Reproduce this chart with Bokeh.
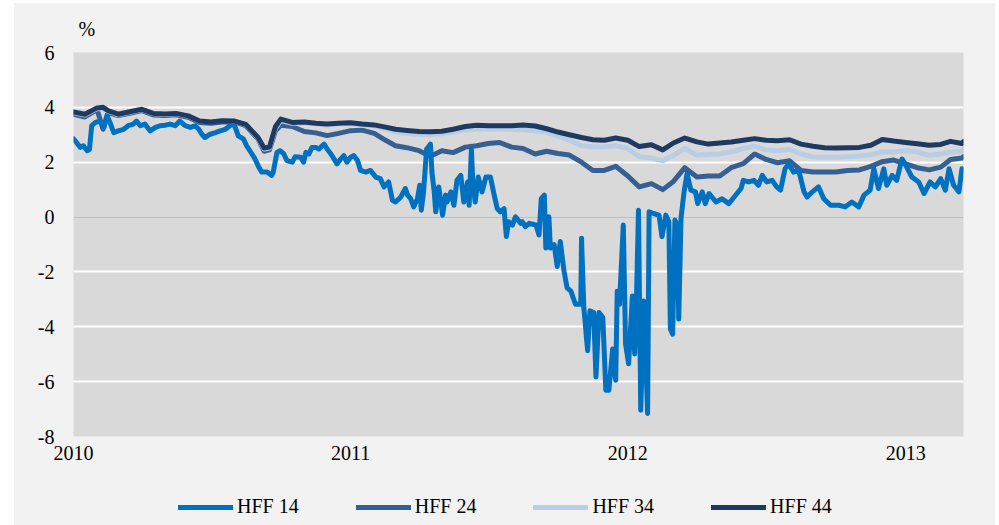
import pandas as pd
from bokeh.plotting import figure
from bokeh.layouts import column, row
from bokeh.models import (Range1d, FixedTicker, DatetimeTickFormatter, Legend,
                          LegendItem, Grid, Spacer)
from bokeh.embed import file_html
from bokeh.resources import INLINE

# ---------------- data ----------------
years = [2010, 2011, 2012, 2013]
y_ticks = [-8, -6, -4, -2, 0, 2, 4, 6]
series_names = ["HFF 14", "HFF 24", "HFF 34", "HFF 44"]
x_start = "2010-01-01"
x_end = "2013-03-18"

hff14_dates = [
    "2010-01-01", "2010-01-05", "2010-01-10", "2010-01-14", "2010-01-19", "2010-01-22", "2010-01-25",
    "2010-01-30", "2010-02-05", "2010-02-10", "2010-02-14", "2010-02-18", "2010-02-23", "2010-03-01",
    "2010-03-08", "2010-03-14", "2010-03-21", "2010-03-25", "2010-03-30", "2010-04-05", "2010-04-12",
    "2010-04-19", "2010-04-25", "2010-05-02", "2010-05-08", "2010-05-15", "2010-05-21", "2010-05-28",
    "2010-06-04", "2010-06-10", "2010-06-15", "2010-06-19", "2010-06-23", "2010-06-30", "2010-07-07",
    "2010-07-13", "2010-07-20", "2010-07-26", "2010-07-29", "2010-08-02", "2010-08-06", "2010-08-13",
    "2010-08-17", "2010-08-24", "2010-08-28", "2010-09-02", "2010-09-06", "2010-09-13", "2010-09-19",
    "2010-09-21", "2010-09-26", "2010-09-30", "2010-10-05", "2010-10-09", "2010-10-16", "2010-10-20",
    "2010-10-27", "2010-10-31", "2010-11-03", "2010-11-07", "2010-11-11", "2010-11-16", "2010-11-20",
    "2010-11-27", "2010-12-01", "2010-12-06", "2010-12-10", "2010-12-14", "2010-12-19", "2010-12-23",
    "2010-12-27",
    "2011-01-01", "2011-01-05", "2011-01-10", "2011-01-14", "2011-01-21", "2011-01-27", "2011-02-03",
    "2011-02-09", "2011-02-14", "2011-02-20", "2011-02-25", "2011-03-01", "2011-03-08", "2011-03-14",
    "2011-03-17", "2011-03-21", "2011-03-25", "2011-03-30", "2011-04-02", "2011-04-04", "2011-04-07",
    "2011-04-11", "2011-04-13", "2011-04-16", "2011-04-18", "2011-04-21", "2011-04-23", "2011-04-27",
    "2011-05-02", "2011-05-06", "2011-05-08", "2011-05-13", "2011-05-17", "2011-05-21", "2011-05-26",
    "2011-05-30", "2011-06-04", "2011-06-06", "2011-06-09", "2011-06-11", "2011-06-14", "2011-06-18",
    "2011-06-23", "2011-06-28", "2011-07-04", "2011-07-09", "2011-07-13", "2011-07-17", "2011-07-22",
    "2011-07-25", "2011-07-28", "2011-08-02", "2011-08-06", "2011-08-13", "2011-08-15", "2011-08-19",
    "2011-08-24", "2011-09-02", "2011-09-06", "2011-09-09", "2011-09-13", "2011-09-15", "2011-09-19",
    "2011-09-21", "2011-09-26", "2011-09-30", "2011-10-04", "2011-10-09", "2011-10-13", "2011-10-18",
    "2011-10-24", "2011-10-31", "2011-11-01", "2011-11-04", "2011-11-09", "2011-11-12", "2011-11-17",
    "2011-11-20", "2011-11-24", "2011-11-29", "2011-12-03", "2011-12-07", "2011-12-12", "2011-12-16",
    "2011-12-18", "2011-12-21", "2011-12-26", "2011-12-29",
    "2012-01-02", "2012-01-07", "2012-01-10", "2012-01-12", "2012-01-15", "2012-01-18", "2012-01-22",
    "2012-01-27", "2012-01-29", "2012-02-04", "2012-02-11", "2012-02-15", "2012-02-20", "2012-02-24",
    "2012-02-26", "2012-02-29", "2012-03-03", "2012-03-06", "2012-03-08", "2012-03-11", "2012-03-15",
    "2012-03-19", "2012-03-24", "2012-03-30", "2012-04-02", "2012-04-08", "2012-04-12", "2012-04-17",
    "2012-04-26", "2012-05-04", "2012-05-13", "2012-05-20", "2012-05-29", "2012-06-01", "2012-06-08",
    "2012-06-15", "2012-06-21", "2012-06-26", "2012-07-02", "2012-07-09", "2012-07-15", "2012-07-20",
    "2012-07-26", "2012-07-31", "2012-08-06", "2012-08-13", "2012-08-20", "2012-08-24", "2012-08-31",
    "2012-09-08", "2012-09-15", "2012-09-24", "2012-10-05", "2012-10-13", "2012-10-22", "2012-10-31",
    "2012-11-07", "2012-11-15", "2012-11-20", "2012-11-26", "2012-12-03", "2012-12-07", "2012-12-14",
    "2012-12-20", "2012-12-27", "2012-12-31",
    "2013-01-09", "2013-01-18", "2013-01-25", "2013-02-02", "2013-02-09", "2013-02-16", "2013-02-22",
    "2013-02-27", "2013-03-05", "2013-03-12", "2013-03-16", "2013-03-18",
]
hff14 = [
    2.85, 2.72, 2.54, 2.6, 2.42, 2.46, 3.33,
    3.45, 3.5, 3.27, 3.71, 3.45, 3.08, 3.14,
    3.2, 3.33, 3.39, 3.5, 3.33, 3.39, 3.14,
    3.27, 3.33, 3.35, 3.39, 3.33, 3.5, 3.33,
    3.27, 3.33, 3.2, 3.02, 2.9, 3.02, 3.08,
    3.14, 3.2, 3.33, 3.45, 3.27, 2.96, 2.84,
    2.6, 2.3, 2.12, 1.82, 1.64, 1.64, 1.52,
    1.64, 2.36, 2.42, 2.3, 2.06, 2.0, 2.2,
    2.18, 2.0, 2.36, 2.3, 2.54, 2.54, 2.48,
    2.66, 2.48, 2.3, 2.12, 1.94, 2.12, 2.24,
    2.0,
    2.18, 2.24, 2.06, 1.7, 1.64, 1.7, 1.46,
    1.4, 1.1, 1.28, 0.61, 0.55, 0.73, 1.04,
    0.8, 0.67, 0.37, 0.67, 1.16, 0.25, 0.92,
    2.48, 2.54, 2.66, 1.64, 0.92, 0.19, 1.1,
    0.07, 0.8, 0.55, 0.92, 0.43, 1.34, 1.52,
    0.55, 1.28, 0.43, 2.48, 1.16, 0.55, 1.46,
    0.92, 1.46, 1.46, 0.8, 0.31, 0.19, 0.31,
    -0.71, -0.17, -0.29, 0.01, -0.23, -0.17, -0.35,
    -0.23, -0.29, -0.65, 0.67, 0.8, -1.13, 0.01,
    -1.13, -1.01, -1.8, -0.89, -1.98, -2.58, -2.7,
    -3.18, -3.18, -0.77, -3.3, -4.87, -3.42, -3.48,
    -5.83, -3.48, -3.66, -6.31, -6.31, -4.81, -5.95,
    -2.7, -3.18, -0.29, -4.63,
    -5.35, -2.88, -4.99, -3.42, 0.25, -7.04, -3.06,
    -7.16, 0.19, 0.13, 0.07, -0.71, 0.07, -0.17,
    -4.08, -4.27, -0.11, -0.29, -3.72, -0.05, 0.92,
    1.58, 0.98, 0.92, 0.49, 0.92, 0.49, 0.86,
    0.55, 0.67, 0.49, 0.73, 1.04, 1.34, 1.28,
    1.34, 1.16, 1.52, 1.28, 1.34, 1.1, 0.98,
    1.76, 1.94, 1.64, 1.7, 0.92, 0.73, 0.92,
    1.1, 0.67, 0.43, 0.43, 0.37, 0.55, 0.37,
    0.8, 0.98, 1.76, 1.04, 1.76, 1.16, 1.52,
    1.34, 2.12, 1.94,
    1.46, 1.28, 0.86, 1.28, 1.1, 1.4, 0.98,
    1.76, 1.16, 0.92, 1.76, 1.7,
]

common_dates = [
    "2010-01-01", "2010-01-16", "2010-02-01", "2010-02-09", "2010-02-16", "2010-03-01", "2010-03-16",
    "2010-04-01", "2010-04-16", "2010-05-01", "2010-05-16", "2010-06-01", "2010-06-16", "2010-07-01",
    "2010-07-16", "2010-08-01", "2010-08-16", "2010-09-01", "2010-09-09", "2010-09-16", "2010-09-24",
    "2010-10-01", "2010-10-16", "2010-11-01", "2010-11-16", "2010-12-01", "2010-12-16",
    "2011-01-01", "2011-01-16", "2011-02-01", "2011-02-16", "2011-03-01", "2011-03-16",
    "2011-04-01", "2011-04-16", "2011-05-01", "2011-05-16", "2011-06-01", "2011-06-16",
    "2011-07-01", "2011-07-16", "2011-08-01", "2011-08-16", "2011-09-01", "2011-09-16",
    "2011-10-01", "2011-10-16", "2011-11-01", "2011-11-16", "2011-12-01", "2011-12-16",
    "2012-01-01", "2012-01-16", "2012-02-01", "2012-02-16", "2012-03-01", "2012-03-16",
    "2012-04-01", "2012-04-16", "2012-05-01", "2012-05-16", "2012-06-01", "2012-06-16",
    "2012-07-01", "2012-07-16", "2012-08-01", "2012-08-16", "2012-09-01", "2012-09-16",
    "2012-10-01", "2012-10-16", "2012-11-01", "2012-11-16", "2012-12-01", "2012-12-16",
    "2013-01-01", "2013-01-16", "2013-02-01", "2013-02-16", "2013-03-01", "2013-03-16", "2013-03-18",
]
hff24 = [
    3.75, 3.65, 3.92, 3.2, 3.8, 3.7, 3.78,
    3.88, 3.72, 3.7, 3.73, 3.64, 3.45, 3.42,
    3.47, 3.47, 3.33, 2.85, 2.4, 2.45, 3.15,
    3.35, 3.3, 3.12, 3.07, 2.97, 3.05,
    3.15, 3.17, 3.05, 2.8, 2.6, 2.53,
    2.42, 2.22, 2.42, 2.35, 2.55, 2.6,
    2.68, 2.72, 2.55, 2.5, 2.3, 2.4,
    2.32, 2.26, 2.0, 1.7, 1.7, 1.85,
    1.5, 1.1, 1.22, 1.0, 1.3, 1.8,
    1.46, 1.5, 1.5, 1.8, 1.95, 2.3,
    2.1, 1.98, 2.05, 1.7, 1.64, 1.64,
    1.64, 1.7, 1.72, 1.85, 2.02, 2.08,
    1.94, 1.8, 1.72, 1.82, 2.1, 2.15, 2.2,
]
hff34 = [
    3.8, 3.72, 3.96, 3.95, 3.85, 3.73, 3.82,
    3.92, 3.77, 3.74, 3.77, 3.68, 3.5, 3.48,
    3.53, 3.5, 3.37, 2.88, 2.48, 2.52, 3.25,
    3.52, 3.42, 3.44, 3.4, 3.36, 3.4,
    3.41, 3.36, 3.32, 3.22, 3.1, 3.05,
    3.02, 3.0, 3.04, 3.1, 3.18, 3.22,
    3.2, 3.22, 3.2, 3.18, 3.15, 3.1,
    2.95, 2.8, 2.6, 2.56, 2.56, 2.6,
    2.5, 2.2, 2.15, 2.05, 2.25, 2.5,
    2.25, 2.28, 2.3, 2.38, 2.5, 2.58,
    2.45, 2.42, 2.47, 2.3, 2.19, 2.18,
    2.18, 2.2, 2.23, 2.27, 2.38, 2.37,
    2.42, 2.38, 2.25, 2.3, 2.36, 2.4, 2.48,
]
hff44 = [
    3.83, 3.75, 3.98, 4.0, 3.87, 3.75, 3.84,
    3.93, 3.78, 3.76, 3.78, 3.69, 3.5, 3.47,
    3.51, 3.5, 3.38, 2.9, 2.52, 2.55, 3.3,
    3.57, 3.45, 3.47, 3.42, 3.39, 3.42,
    3.44, 3.39, 3.36, 3.28, 3.2, 3.16,
    3.12, 3.11, 3.13, 3.2, 3.3, 3.35,
    3.33, 3.33, 3.33, 3.36, 3.32, 3.22,
    3.1, 3.0, 2.9, 2.82, 2.8, 2.88,
    2.8, 2.57, 2.64, 2.45, 2.7, 2.88,
    2.74, 2.66, 2.7, 2.74, 2.8, 2.86,
    2.8, 2.78, 2.82, 2.66, 2.58, 2.53,
    2.52, 2.53, 2.54, 2.62, 2.83, 2.77,
    2.72, 2.67, 2.62, 2.65, 2.76, 2.68, 2.75,
]

colors = {"HFF 14": "#0070c0", "HFF 24": "#376092", "HFF 34": "#b9cde5", "HFF 44": "#1f3a60"}

# ---------------- main figure ----------------
FONT = "Liberation Serif"
BG = "#f2f2f2"
W = 981

p = figure(width=W, height=477, x_axis_type="datetime",
           x_range=Range1d(pd.Timestamp(x_start), pd.Timestamp(x_end)),
           y_range=Range1d(y_ticks[0], y_ticks[-1]),
           output_backend="svg", toolbar_location=None,
           min_border_left=59, min_border_right=32, min_border_top=46, min_border_bottom=44,
           title="%")

p.background_fill_color = "#d9d9d9"
p.border_fill_color = BG
p.outline_line_color = None

p.title.text_font = FONT
p.title.text_font_size = "20px"
p.title.text_font_style = "normal"
p.title.text_color = "black"
p.title.align = "left"
p.title.offset = 5
p.title.standoff = 25

# axes
p.xaxis.ticker = FixedTicker(ticks=[pd.Timestamp(f"{y}-01-01").timestamp() * 1000 for y in years])
p.xaxis.formatter = DatetimeTickFormatter(years="%Y", months="%Y", days="%Y", hours="%Y",
                                          minutes="%Y", seconds="%Y", milliseconds="%Y",
                                          microseconds="%Y", hourmin="%Y", minsec="%Y")
p.yaxis.ticker = FixedTicker(ticks=y_ticks)
p.yaxis.major_label_overrides = {t: str(t) for t in y_ticks}
for ax in (p.xaxis[0], p.yaxis[0]):
    ax.axis_line_color = None
    ax.major_tick_line_color = None
    ax.minor_tick_line_color = None
    ax.major_label_text_font = FONT
    ax.major_label_text_font_size = "20px"
    ax.major_label_text_color = "black"
p.yaxis.major_label_standoff = 13
p.xaxis.major_label_standoff = 3

# grids
p.xgrid.visible = False
p.ygrid.ticker = FixedTicker(ticks=[t for t in y_ticks if t != 0])
p.ygrid.grid_line_color = "white"
p.ygrid.grid_line_width = 1.8
zero_grid = Grid(dimension=1, ticker=FixedTicker(ticks=[0]), grid_line_color="#bfbfbf",
                 grid_line_width=1.2)
p.add_layout(zero_grid)

# lines
d14 = pd.to_datetime(hff14_dates)
dc = pd.to_datetime(common_dates)
series_x = {"HFF 14": d14, "HFF 24": dc, "HFF 34": dc, "HFF 44": dc}
series_y = {"HFF 14": hff14, "HFF 24": hff24, "HFF 34": hff34, "HFF 44": hff44}
draw_order = ["HFF 24", "HFF 14", "HFF 34", "HFF 44"]
kw = dict(line_width=5, line_join="round", line_cap="round")
for n in draw_order:
    p.line(series_x[n], series_y[n], color=colors[n], **kw)

# ---------------- legend strip ----------------
# same series, drawn into a strip whose y-range lies far outside the data, so only
# the legend entries show
lg = figure(width=W, height=45, output_backend="svg", toolbar_location=None,
            x_range=p.x_range, y_range=Range1d(100, 101),
            x_axis_location=None, y_axis_location=None, min_border=0)
lg.background_fill_color = BG
lg.border_fill_color = BG
lg.outline_line_color = None
lg.grid.visible = False
items = []
for n in series_names:
    r = lg.line(series_x[n], series_y[n], color=colors[n], **kw)
    items.append(LegendItem(label=n, renderers=[r]))
legend = Legend(items=items, orientation="horizontal", location=(105, 7),
                glyph_width=55, glyph_height=20, label_standoff=4, spacing=57,
                padding=0, margin=0, background_fill_alpha=0, border_line_alpha=0,
                label_text_font=FONT, label_text_font_size="20px", label_text_color="black")
lg.add_layout(legend)

chart = column(Spacer(width=W, height=3, styles={"background-color": "white"}), p, lg,
               spacing=0, styles={"background-color": BG})
layout = row(Spacer(width=14, height=525), chart, spacing=0)
open("out.html", "w").write(file_html(layout, INLINE))
